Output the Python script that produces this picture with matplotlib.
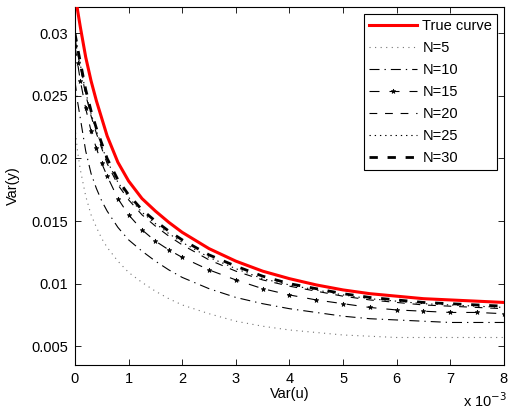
import matplotlib
matplotlib.use('Agg')
import matplotlib.pyplot as plt

plt.rcParams['font.family'] = ['Liberation Sans', 'DejaVu Sans']

# Var(u) in units of 1e-3
var_u = [0, 0.05, 0.1, 0.2, 0.3, 0.4, 0.5, 0.6, 0.8, 1.0, 1.25, 1.5, 1.75,
         2.0, 2.5, 3.0, 3.5, 4.0, 4.5, 5.0, 5.5, 6.0, 6.5, 7.0, 7.5, 8.0]

true_curve = [0.0333, 0.0318, 0.0305, 0.0281, 0.0262, 0.0246, 0.0232, 0.0218,
              0.0197, 0.0182, 0.0168, 0.0158, 0.0149, 0.0141, 0.0128, 0.0118,
              0.0110, 0.0104, 0.0099, 0.0095, 0.0092, 0.0090, 0.0088, 0.0087,
              0.0086, 0.0085]
n5 = [0.0225, 0.0205, 0.0191, 0.0170, 0.0155, 0.0145, 0.0136, 0.0129,
      0.0118, 0.0109, 0.0101, 0.0094, 0.0088, 0.0083, 0.0076, 0.0070,
      0.0066, 0.0063, 0.0061, 0.0059, 0.0058, 0.0057, 0.0057, 0.0057,
      0.0057, 0.0057]
n10 = [0.0262, 0.0245, 0.0232, 0.0206, 0.0188, 0.0176, 0.0166, 0.0158,
       0.0145, 0.0135, 0.0126, 0.0118, 0.0111, 0.0105, 0.0096, 0.0089,
       0.0084, 0.0080, 0.0077, 0.0074, 0.0072, 0.0071, 0.0070, 0.0069,
       0.0069, 0.0069]
n15 = [0.0290, 0.0276, 0.0262, 0.0240, 0.0222, 0.0208, 0.0196, 0.0186,
       0.0168, 0.0155, 0.0143, 0.0134, 0.0127, 0.0121, 0.0111, 0.0103,
       0.0096, 0.0091, 0.0087, 0.0084, 0.0081, 0.0079, 0.0078, 0.0077,
       0.0077, 0.0076]
n20 = [0.0296, 0.0284, 0.0273, 0.0251, 0.0234, 0.0220, 0.0208, 0.0196,
       0.0179, 0.0167, 0.0155, 0.0146, 0.0138, 0.0131, 0.0119, 0.0110,
       0.0103, 0.0098, 0.0094, 0.0090, 0.0087, 0.0085, 0.0083, 0.0082,
       0.0081, 0.0080]
n25 = [0.0298, 0.0286, 0.0275, 0.0253, 0.0236, 0.0222, 0.0210, 0.0198,
       0.0181, 0.0169, 0.0157, 0.0148, 0.0140, 0.0133, 0.0121, 0.0112,
       0.0104, 0.0099, 0.0095, 0.0091, 0.0088, 0.0086, 0.0084, 0.0083,
       0.0082, 0.0081]
n30 = [0.0300, 0.0288, 0.0277, 0.0255, 0.0238, 0.0224, 0.0212, 0.0200,
       0.0183, 0.0171, 0.0159, 0.0150, 0.0142, 0.0135, 0.0123, 0.0114,
       0.0106, 0.0100, 0.0096, 0.0092, 0.0089, 0.0087, 0.0085, 0.0084,
       0.0083, 0.0082]

x_ticks = [0, 1, 2, 3, 4, 5, 6, 7, 8]
y_ticks = [0.005, 0.01, 0.015, 0.02, 0.025, 0.03]

fig = plt.figure(figsize=(5.1, 4.12), dpi=100)
ax = fig.add_axes([0.147, 0.114, 0.841, 0.869])

ax.plot(var_u, true_curve, color='red', lw=2.2, label='True curve', zorder=10)
ax.plot(var_u, n5, color='0.45', lw=0.8, ls=(0, (1, 4)), label='N=5')
ax.plot(var_u, n10, color='black', lw=0.8, ls=(0, (9, 4.5, 1.2, 4.5)),
        label='N=10')
ax.plot(var_u, n15, color='black', lw=0.8, ls=(0, (9, 9)), marker='*',
        ms=3.5, mew=0.5, label='N=15')
ax.plot(var_u, n20, color='black', lw=0.8, ls=(0, (7, 7)), label='N=20')
ax.plot(var_u, n25, color='black', lw=0.8, ls=(0, (1.2, 3.5)), label='N=25')
ax.plot(var_u, n30, color='black', lw=2.0, ls=(0, (3, 3.5)), label='N=30')

ax.set_xlim(0, 8)
ax.set_ylim(0.0035, 0.0321)
ax.set_xticks(x_ticks)
ax.set_xticklabels([str(t) for t in x_ticks])
ax.set_yticks(y_ticks)
ax.set_yticklabels(['%g' % t for t in y_ticks])
ax.tick_params(direction='in', top=True, right=True, labelsize=10.5,
               length=4, width=0.6, pad=5)
for s in ax.spines.values():
    s.set_linewidth(0.8)

ax.set_xlabel('Var(u)', fontsize=10.5, labelpad=1)
ax.set_ylabel('Var(y)', fontsize=10.5, labelpad=8)
fig.text(0.994, 0.012, r'x 10$^{-3}$', fontsize=10.5, ha='right')

leg = ax.legend(loc='upper right', fontsize=10.5, handlelength=3.3,
                fancybox=False, edgecolor='black', framealpha=1,
                borderaxespad=0.45, labelspacing=0.55, handletextpad=0.35,
                borderpad=0.35)
leg.get_frame().set_linewidth(0.8)

fig.savefig('out.png', dpi=100)
